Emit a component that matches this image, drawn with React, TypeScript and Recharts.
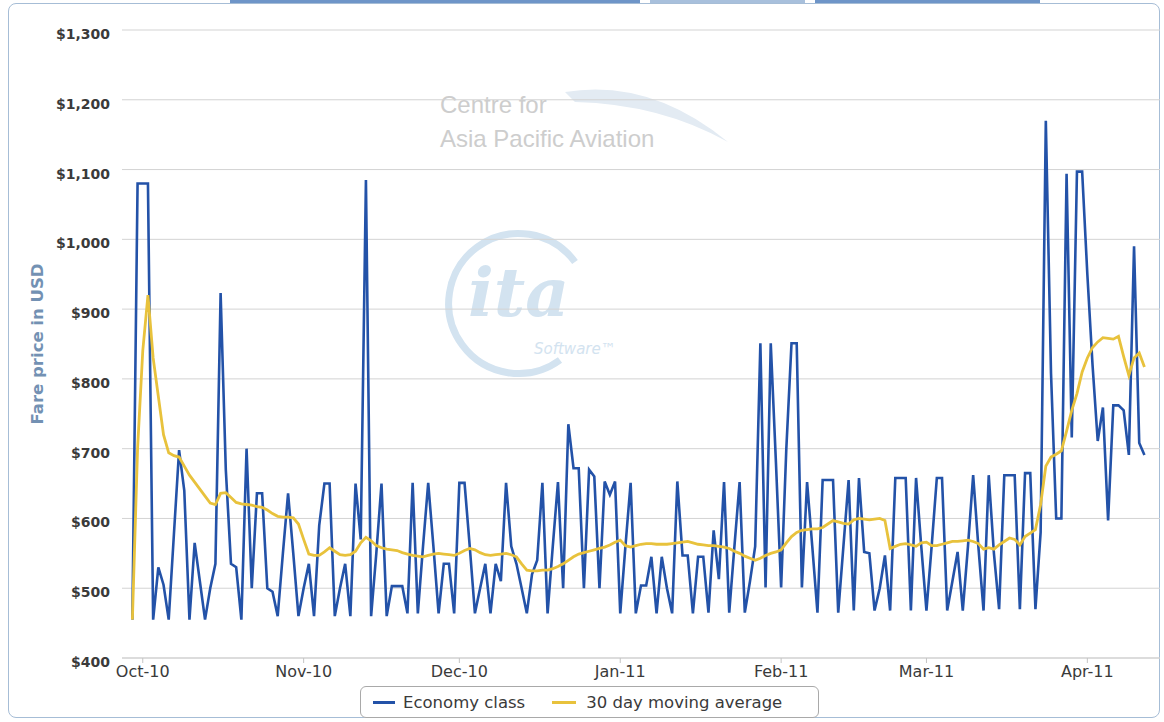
import React from "react";
import { LineChart, Line, XAxis, YAxis, CartesianGrid } from "recharts";

// x values are days counted from 1 Oct 2010; the series starts on 29 Sep 2010
const firstDay = -2;

const economyFares = [
  455, 1080, 1080, 1080, 455, 530, 505, 455, 577, 698,
  640, 455, 565, 510, 455, 500, 535, 923, 670, 535,
  530, 455, 700, 500, 636, 636, 500, 495, 460, 550,
  636, 550, 460, 500, 535, 460, 590, 650, 650, 460,
  500, 535, 460, 650, 570, 1085, 460, 550, 650, 460,
  503, 503, 503, 464, 651, 464, 560, 651, 560, 464,
  535, 535, 464, 651, 651, 560, 464, 500, 535, 464,
  535, 510, 651, 560, 535, 500, 464, 520, 540, 651,
  464, 560, 652, 500, 735, 672, 672, 500, 670, 660,
  500, 653, 634, 653, 464, 560, 651, 464, 504, 504,
  545, 464, 545, 500, 464, 653, 547, 547, 464, 545,
  545, 465, 583, 513, 652, 465, 560, 652, 465, 510,
  560, 851, 501, 851, 680, 501, 700, 851, 851, 501,
  652, 560, 465, 655, 655, 655, 465, 560, 655, 468,
  658, 552, 550, 468, 500, 547, 468, 658, 658, 658,
  468, 658, 560, 468, 560, 658, 658, 468, 510, 552,
  468, 560, 662, 560, 468, 662, 550, 470, 662, 662,
  662, 470, 665, 665, 470, 580, 1170, 808, 600, 600,
  1094, 716, 1097, 1097, 950, 820, 711, 759, 597, 762,
  762, 755, 691, 990, 708, 691,
];

const movingAverage = [
  455, 700, 840, 920, 830, 775, 720, 694, 690, 688,
  675, 662, 652, 642, 632, 622, 620, 636, 637, 630,
  623, 621, 620, 619, 617, 616, 612, 607, 603, 602,
  602, 601, 592, 570, 549, 547, 547, 552, 558, 553,
  548, 547, 548, 553, 565, 573, 568, 561, 558, 556,
  555, 554, 551, 549, 547, 546, 545, 547, 549, 550,
  549, 548, 547, 550, 554, 557, 555, 551, 548, 547,
  548, 549, 550, 548, 545, 535, 526, 525, 525, 526,
  526, 528, 531, 535, 540, 545, 549, 551, 553, 555,
  557, 559, 562, 566, 569, 561, 559, 561, 563, 564,
  564, 563, 563, 563, 564, 565, 566, 567, 565, 563,
  562, 561, 561, 560, 559, 557, 553, 550, 546, 543,
  540, 543, 547, 550, 552, 555, 565, 574, 580, 583,
  584, 585, 585, 587, 592, 597, 595, 593, 592, 598,
  600, 599, 598, 599, 600, 597, 557, 560, 563, 564,
  562, 560, 565, 566, 561, 561, 563, 565, 567, 567,
  568, 569, 567, 564, 556, 558, 556, 562, 567, 572,
  570, 562, 574, 579, 584, 620, 675, 688, 692, 697,
  725, 755, 779, 810, 830, 845, 853, 859, 858, 857,
  861, 832, 805, 830, 837, 817,
];

const monthTicks = [0, 31, 61, 92, 123, 151, 182];
const monthLabels = ["Oct-10", "Nov-10", "Dec-10", "Jan-11", "Feb-11", "Mar-11", "Apr-11"];
const priceTicks = [400, 500, 600, 700, 800, 900, 1000, 1100, 1200, 1300];

const data = economyFares.map((fare, i) => ({
  day: firstDay + i,
  fare,
  avg: movingAverage[i],
}));

const font = "'DejaVu Sans', Verdana, sans-serif";
const blue = "#2352a8";
const gold = "#e8c23c";

const formatPrice = (v: number) => "$" + v.toLocaleString("en-US");

// price labels sit a few px below their grid line, like the original
function PriceTick(props: any) {
  const { x, y, payload } = props;
  return (
    <text x={x} y={y + 5} textAnchor="end" dominantBaseline="middle" fontSize={14} fontWeight="bold" fill="#3a3a3a" fontFamily={font}>
      {formatPrice(payload.value)}
    </text>
  );
}

function Watermark() {
  return (
    <svg width={1164} height={722} style={{ position: "absolute", left: 0, top: 0 }}>
      <path d="M 565 92 Q 650 78 728 142 Q 660 104 575 102 Z" fill="#e3ebf3" />
      <text x={440} y={113} fontSize={24} fill="#cdcdcd" fontFamily="'Liberation Sans', Arial">
        Centre for
      </text>
      <text x={440} y={147} fontSize={24} fill="#cdcdcd" fontFamily="'Liberation Sans', Arial">
        Asia Pacific Aviation
      </text>
      <path d="M 575 262 A 70 70 0 1 0 560 360" fill="none" stroke="#d3e3f0" strokeWidth={7} />
      <text x={468} y={316} fontSize={68} fontStyle="italic" fontWeight="bold" fill="#d3e3f0" fontFamily="'DejaVu Serif', serif">
        ita
      </text>
      <text x={534} y={354} fontSize={15} fontStyle="italic" fill="#d3e3f0" fontFamily="'DejaVu Sans', sans-serif">
        Software™
      </text>
    </svg>
  );
}

function LegendBox() {
  return (
    <div
      style={{
        position: "absolute",
        left: 360,
        top: 686,
        width: 459,
        height: 32,
        boxSizing: "border-box",
        border: "1px solid #a9a9a9",
        borderRadius: 6,
        background: "#fff",
        display: "flex",
        alignItems: "center",
        paddingLeft: 12,
        fontFamily: font,
        fontSize: 16.5,
        color: "#3a3a3a",
        whiteSpace: "nowrap",
      }}
    >
      <span style={{ display: "inline-block", width: 22, height: 3, background: blue, marginRight: 8 }} />
      <span style={{ marginRight: 27 }}>Economy class</span>
      <span style={{ display: "inline-block", width: 24, height: 3, background: gold, marginRight: 10 }} />
      <span>30 day moving average</span>
    </div>
  );
}

export default function App() {
  return (
    <div style={{ position: "fixed", left: 0, top: 0, width: 1164, height: 722, background: "#fff", overflow: "hidden" }}>
      <div style={{ position: "absolute", left: 230, top: 0, width: 410, height: 3, background: "#6e95c8" }} />
      <div style={{ position: "absolute", left: 650, top: 0, width: 155, height: 3, background: "#a8c0dc" }} />
      <div style={{ position: "absolute", left: 815, top: 0, width: 225, height: 3, background: "#6e95c8" }} />
      <div
        style={{
          position: "absolute",
          left: 8,
          top: 3,
          width: 1152,
          height: 715,
          boxSizing: "border-box",
          border: "1px solid #a6bdd6",
          borderRadius: 8,
        }}
      />
      <Watermark />
      <div style={{ position: "absolute", left: 0, top: 0 }}>
        <LineChart width={1164} height={722} data={data} margin={{ top: 30, right: 4, left: 0, bottom: 34 }}>
          <CartesianGrid vertical={false} stroke="#d3d3d3" />
          <XAxis
            type="number"
            dataKey="day"
            domain={[-4, 196]}
            allowDataOverflow
            ticks={monthTicks}
            interval={0}
            tickFormatter={(d: number) => monthLabels[monthTicks.indexOf(d)]}
            height={30}
            tickSize={5}
            tickMargin={3}
            axisLine={{ stroke: "#cfcfcf" }}
            tickLine={{ stroke: "#c4c4c4" }}
            tick={{ fontSize: 16, fill: "#3a3a3a", fontFamily: font }}
          />
          <YAxis
            domain={[400, 1300]}
            ticks={priceTicks}
            interval={0}
            width={122}
            axisLine={false}
            tickLine={false}
            tickSize={10}
            tickMargin={2}
            tick={<PriceTick />}
            label={{
              value: "Fare price in USD",
              angle: -90,
              position: "center",
              dx: -24,
              style: { fontSize: 16.5, fontWeight: "bold", fill: "#7391b3", fontFamily: font },
            }}
          />
          <Line type="linear" dataKey="fare" name="Economy class" stroke={blue} strokeWidth={2.6} dot={false} isAnimationActive={false} />
          <Line type="linear" dataKey="avg" name="30 day moving average" stroke={gold} strokeWidth={2.8} dot={false} isAnimationActive={false} />
        </LineChart>
      </div>
      <LegendBox />
    </div>
  );
}
